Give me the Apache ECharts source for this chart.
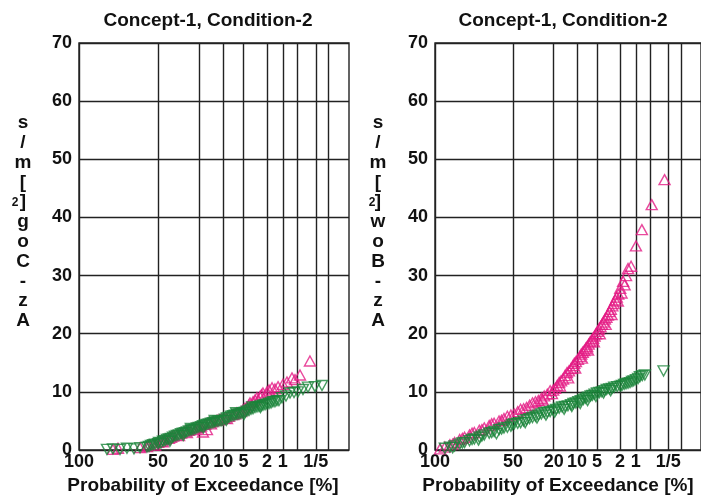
<!DOCTYPE html>
<html><head><meta charset="utf-8">
<script src="https://cdn.jsdelivr.net/npm/echarts@6/dist/echarts.min.js"></script>
<style>html,body{margin:0;padding:0;background:#fff}#c{width:701px;height:501px}</style>
</head><body><div id="c"></div>
<script>
const panelTitles = ['Concept-1, Condition-2', 'Concept-1, Condition-2'];
const xAxisName = 'Probability of Exceedance [%]';
const yNameChars = [
  ['s','/','m','[',']','g','o','C','-','z','A'],
  ['s','/','m','[',']','w','o','B','-','z','A']
];
const ySuperscript = '2';
const yMin = 0, yMax = 70, yStep = 10;
// Rayleigh probability paper: grid lines and labelled ticks (exceedance %)
const gridProbs = [100, 50, 20, 10, 5, 2, 1, 0.5, 0.2, 0.1];
const labelProbs = [100, 50, 20, 10, 5, 2, 1, 0.2];
const labelTexts = ['100', '50', '20', '10', '5', '2', '1', '1/5'];
const edgeProb = 0.031;

// [exceedance %, acceleration] — Az-CoG, pink (up triangles)
const cogUp = [[88.0,0.1],[84.5,0.3],[66.2,0.4],[59.9,0.6],[58.1,0.8],[54.5,1.0],[52.7,0.8],[50.0,1.3],[47.5,1.5],[45.8,1.4],[44.1,1.8],[40.8,2.0],[39.1,2.2],[37.6,2.4],[34.5,2.6],[33.0,2.5],[31.6,2.9],[28.8,3.2],[27.5,3.0],[26.2,3.4],[23.7,3.7],[22.5,3.5],[21.4,3.9],[20.3,4.0],[19.2,4.1],[18.2,3.1],[17.2,4.4],[16.3,3.5],[15.4,4.7],[14.5,4.5],[13.7,4.9],[12.1,5.1],[11.4,5.2],[10.7,5.3],[9.42,5.5],[8.83,5.4],[8.27,5.8],[7.22,6.1],[6.74,6.2],[6.29,6.4],[5.46,6.6],[5.08,6.9],[4.72,7.2],[4.38,7.4],[4.07,7.7],[3.92,8.1],[3.49,8.3],[3.23,8.6],[2.99,9.0],[2.65,9.2],[2.5,9.5],[2.35,9.8],[1.99,10.0],[1.83,10.3],[1.61,10.7],[1.42,10.5],[1.24,10.9],[0.994,11.3],[0.828,11.7],[0.656,12.4],[0.569,12.1],[0.446,12.9],[0.271,15.3]];
// Az-CoG, green (down triangles)
const cogDown = [[91.7,0.1],[88.0,0.2],[83.0,0.1],[77.5,0.3],[71.5,0.2],[66.2,0.4],[59.9,0.5],[58.1,0.6],[56.3,0.8],[54.5,0.9],[52.7,1.0],[50.0,1.1],[49.2,1.3],[47.5,1.2],[45.8,1.5],[44.1,1.6],[42.4,1.8],[40.8,1.9],[40.0,1.5],[39.1,2.0],[37.6,2.2],[36.0,2.4],[34.5,2.5],[33.0,2.6],[31.6,2.8],[30.2,2.9],[30.0,2.5],[28.8,3.0],[27.5,3.1],[26.2,3.3],[25.0,3.7],[24.9,3.4],[23.7,3.5],[22.5,3.6],[21.4,3.8],[20.3,3.9],[19.2,4.0],[18.2,4.2],[18.0,3.8],[17.2,4.3],[16.3,4.4],[15.4,4.5],[14.5,4.6],[13.7,4.7],[13.0,5.1],[12.9,4.8],[12.1,4.9],[11.4,5.0],[10.7,5.0],[10.05,5.1],[9.42,5.3],[9.0,5.1],[8.83,5.5],[8.27,5.6],[7.73,5.8],[7.22,5.9],[6.74,6.0],[6.5,6.4],[6.29,6.1],[5.86,6.2],[5.46,6.3],[5.08,6.4],[4.9,6.1],[4.72,6.5],[4.38,6.7],[4.07,6.8],[3.77,7.0],[3.6,7.4],[3.49,7.1],[3.23,7.3],[2.99,7.4],[2.76,7.5],[2.6,7.3],[2.55,7.6],[2.35,7.7],[2.16,7.8],[1.99,7.9],[1.83,8.0],[1.68,8.1],[1.55,8.3],[1.42,8.3],[1.30,8.5],[1.19,8.5],[1.04,9.0],[0.867,9.3],[0.720,9.8],[0.596,9.9],[0.492,10.0],[0.385,10.4],[0.300,10.8],[0.209,10.9],[0.144,11.1]];
// Az-Bow, pink (up triangles)
const bowUp = [[99.7,0.2],[98.9,0.5],[97.5,0.9],[96.5,1.0],[95.7,1.3],[93.3,1.8],[91.8,2.0],[90.5,2.2],[87.3,2.6],[85.5,2.9],[83.8,3.0],[79.9,3.4],[77.8,3.5],[75.8,3.8],[71.5,4.2],[69.3,4.5],[67.1,4.6],[62.6,5.0],[60.3,5.1],[58.1,5.4],[55.0,5.8],[51.8,6.0],[48.8,6.2],[45.8,6.6],[43.3,7.0],[40.8,7.1],[38.4,7.3],[36.0,7.7],[33.8,8.1],[31.6,8.3],[29.5,8.5],[27.5,8.9],[25.6,9.3],[23.7,9.6],[22.0,10.2],[20.3,10.3],[19.2,10.6],[18.2,11.1],[17.2,11.6],[16.3,11.9],[15.4,12.2],[14.5,12.8],[13.7,13.3],[12.9,13.6],[12.1,14.0],[11.4,14.5],[10.9,14.9],[10.37,15.2],[9.7,15.6],[9.12,16.1],[8.7,16.5],[8.27,16.8],[7.85,17.1],[7.47,17.5],[7.1,17.8],[6.74,18.2],[6.4,18.6],[6.07,18.9],[5.75,19.2],[5.46,19.6],[5.2,20.0],[4.90,20.4],[4.65,20.8],[4.38,21.2],[4.15,21.6],[3.92,22.0],[3.7,22.5],[3.49,22.8],[3.3,23.2],[3.11,23.8],[2.93,24.2],[2.76,24.8],[2.6,25.2],[2.45,25.8],[2.3,26.3],[2.16,26.8],[1.99,27.8],[1.76,29.0],[1.55,30.0],[1.42,31.2],[1.24,31.6],[0.994,35.1],[0.755,37.9],[0.469,42.2],[0.244,46.5],
  [26.5,8.6],[21.0,9.7],[16.8,11.0],[13.2,12.4],[10.6,14.1],[8.5,15.8],[6.9,17.2],[5.6,18.6],[4.5,20.0],[3.6,21.6],[2.85,23.3],[2.2,25.6],[1.88,27.0],[1.65,28.4]];
// Az-Bow, green (down triangles)
const bowDown = [[98.9,0.3],[97.5,0.5],[96.5,0.4],[95.7,0.7],[93.3,1.0],[91.8,1.2],[90.5,1.3],[87.3,1.6],[85.5,1.8],[83.8,1.9],[79.9,2.2],[77.8,2.4],[75.8,2.6],[71.5,2.9],[69.3,3.0],[67.1,3.2],[62.6,3.5],[60.3,3.6],[58.1,3.8],[55.0,3.9],[51.8,4.1],[48.8,4.5],[45.8,4.6],[43.3,4.7],[40.8,5.0],[38.4,5.2],[36.0,5.4],[33.8,5.6],[31.6,5.8],[29.5,6.0],[27.5,6.2],[25.6,6.4],[23.7,6.5],[22.0,6.6],[20.3,6.8],[18.7,7.0],[17.2,7.2],[15.8,7.4],[14.5,7.5],[13.3,7.6],[12.1,7.8],[11.2,8.0],[10.37,8.1],[9.6,8.3],[8.83,8.5],[8.1,8.7],[7.47,8.9],[6.9,9.1],[6.29,9.3],[5.9,9.4],[5.46,9.6],[5.0,9.8],[4.55,9.9],[4.15,10.0],[3.77,10.2],[3.45,10.4],[3.11,10.5],[2.8,10.6],[2.55,10.8],[2.25,10.9],[1.99,11.0],[1.85,11.1],[1.68,11.3],[1.55,11.4],[1.42,11.5],[1.3,11.6],[1.19,11.8],[1.1,11.9],[0.994,12.1],[0.9,12.3],[0.828,12.6],[0.74,12.8],[0.656,12.9],[0.257,13.6],
  [80.5,1.7],[65.0,2.8],[50.5,4.4],[39.5,4.7],[30.5,5.5],[24.5,6.0],[19.5,6.5],[14.9,7.0],[11.8,7.5],[9.0,8.0],[7.0,8.5],[5.2,9.2],[3.9,9.8],[2.95,10.2]];

const panelUp = [cogUp, bowUp];
const panelDown = [cogDown, bowDown];

const rv = p => Math.sqrt(Math.log(100 / p)); // Rayleigh reduced variate
const labelAt = v => {
  for (let i = 0; i < labelProbs.length; i++) if (Math.abs(rv(labelProbs[i]) - v) < 1e-6) return labelTexts[i];
  return '';
};
const FONT = "'Liberation Sans', Arial, Helvetica, sans-serif";
const INK = '#111';
const LINE = '#222';
const PINK = '#e31c84';
const GREEN = '#1a8439';

const grids = [
  { left: 79, top: 43, width: 270, height: 407 },
  { left: 435, top: 43, width: 269, height: 407 }
];
const titleX = [203, 558];
const namePad = [22, 20];
const colX = [23, 378];
const supX = [15, 372];

const chart = echarts.init(document.getElementById('c'), null, { renderer: 'canvas' });
chart.setOption({
  animation: false,
  backgroundColor: '#fff',
  title: panelTitles.map((t, i) => ({
    text: t, left: titleX[i], top: 6, textAlign: 'center',
    textStyle: { fontFamily: FONT, fontSize: 19, fontWeight: 'bold', color: INK }
  })),
  grid: grids.map(g => Object.assign({ show: true, borderColor: LINE, borderWidth: 1.4, backgroundColor: 'transparent' }, g)),
  xAxis: grids.map((g, i) => ({
    type: 'value', gridIndex: i, min: 0, max: rv(edgeProb),
    axisLine: { show: false },
    axisTick: { show: false, customValues: gridProbs.map(rv) },
    splitLine: { show: true, lineStyle: { color: LINE, width: 1.4 } },
    axisLabel: {
      customValues: labelProbs.map(rv), formatter: v => labelAt(v),
      fontFamily: FONT, fontSize: 18, fontWeight: 'bold', color: INK, margin: 3
    },
    name: xAxisName, nameLocation: 'middle', nameGap: 26,
    nameTextStyle: { fontFamily: FONT, fontSize: 19, fontWeight: 'bold', color: INK, padding: [0, namePad[i], 0, 0] }
  })),
  yAxis: grids.map((g, i) => ({
    type: 'value', gridIndex: i, min: yMin, max: yMax, interval: yStep,
    axisLine: { show: false }, axisTick: { show: false },
    splitLine: { show: true, lineStyle: { color: LINE, width: 1.4 } },
    axisLabel: { fontFamily: FONT, fontSize: 18, fontWeight: 'bold', color: INK, margin: 7 }
  })),
  graphic: yNameChars.map((chars, i) => ({
    type: 'text', x: colX[i], y: 113, silent: true,
    style: { text: chars.join('\n'), fill: INK, fontFamily: FONT, fontSize: 19, fontWeight: 'bold',
             align: 'center', verticalAlign: 'top', lineHeight: 19.8 }
  })).concat(supX.map(x => ({
    type: 'text', x: x, y: 203, silent: true,
    style: { text: ySuperscript, fill: INK, fontFamily: FONT, fontSize: 12, fontWeight: 'bold', align: 'center', verticalAlign: 'middle' }
  }))),
  series: [0, 1].flatMap(i => [
    {
      type: 'scatter', xAxisIndex: i, yAxisIndex: i,
      data: panelUp[i].map(([p, v]) => [rv(p), v]),
      symbol: 'triangle', symbolSize: [11, 10],
      itemStyle: { color: 'transparent', borderColor: PINK, borderWidth: 1.4 }
    },
    {
      type: 'scatter', xAxisIndex: i, yAxisIndex: i,
      data: panelDown[i].map(([p, v]) => [rv(p), v]),
      symbol: 'triangle', symbolSize: [11, 10], symbolRotate: 180,
      itemStyle: { color: 'transparent', borderColor: GREEN, borderWidth: 1.4 }
    }
  ])
});
</script>
</body></html>
